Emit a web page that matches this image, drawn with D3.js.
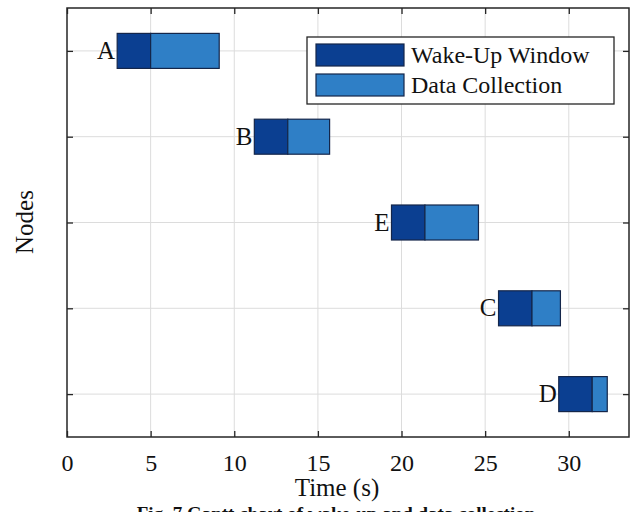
<!DOCTYPE html>
<html>
<head>
<meta charset="utf-8">
<script src="https://cdn.jsdelivr.net/npm/d3@7"></script>
<style>
body { margin: 0; background: #fff; }
text { font-family: "Liberation Serif", "Times New Roman", serif; fill: #111; }
</style>
</head>
<body>
<script>
// nodes in display order (top to bottom)
var nodes = ["A", "B", "E", "C", "D"];
var wakeStart = [3.0, 11.2, 19.4, 25.8, 29.4];
var wakeDur = [2.0, 2.0, 2.0, 2.0, 2.0];
var dataDur = [4.1, 2.5, 3.2, 1.7, 0.9];
var xTicks = [0, 5, 10, 15, 20, 25, 30];
var seriesNames = ["Wake-Up Window", "Data Collection"];
var seriesColors = ["#0b3f91", "#2f7fc6"];

var width = 630, height = 512;
var mLeft = 67, mRight = 629, mTop = 8, mBottom = 437;

var svg = d3.select("body").append("svg")
    .attr("width", width)
    .attr("height", height);

var x = d3.scaleLinear().domain([0, 33.6]).range([mLeft, mRight]);
var y = d3.scalePoint().domain(nodes).range([mTop, mBottom]).padding(0.5);
var barH = 35;

// grid
svg.append("g").selectAll("line.vg")
    .data(xTicks.slice(1))
    .enter().append("line")
    .attr("x1", d => x(d)).attr("x2", d => x(d))
    .attr("y1", mTop).attr("y2", mBottom)
    .attr("stroke", "#dcdcdc").attr("stroke-width", 1);
svg.append("g").selectAll("line.hg")
    .data(nodes)
    .enter().append("line")
    .attr("x1", mLeft).attr("x2", mRight)
    .attr("y1", d => y(d)).attr("y2", d => y(d))
    .attr("stroke", "#dcdcdc").attr("stroke-width", 1);

// bars
var rows = nodes.map(function(n, i) {
  return {node: n, s: wakeStart[i], w: wakeDur[i], c: dataDur[i]};
});

var g = svg.append("g");
g.selectAll(".wake")
    .data(rows)
    .enter().append("rect")
    .attr("x", d => x(d.s))
    .attr("y", d => y(d.node) - barH / 2)
    .attr("width", d => x(d.s + d.w) - x(d.s))
    .attr("height", barH)
    .attr("fill", seriesColors[0])
    .attr("stroke", "#14264a").attr("stroke-width", 1.2);
g.selectAll(".data")
    .data(rows)
    .enter().append("rect")
    .attr("x", d => x(d.s + d.w))
    .attr("y", d => y(d.node) - barH / 2)
    .attr("width", d => x(d.s + d.w + d.c) - x(d.s + d.w))
    .attr("height", barH)
    .attr("fill", seriesColors[1])
    .attr("stroke", "#14264a").attr("stroke-width", 1.2);
g.selectAll(".lab")
    .data(rows)
    .enter().append("text")
    .attr("x", d => x(d.s) - 2)
    .attr("y", d => y(d.node) + 8)
    .attr("text-anchor", "end")
    .attr("font-size", 25)
    .text(d => d.node);

// axes (box with inward ticks)
var xAxisB = d3.axisBottom(x).tickValues(xTicks).tickSize(-6).tickPadding(17).tickFormat(d3.format("d"));
var xAxisT = d3.axisTop(x).tickValues(xTicks).tickSize(-6).tickFormat("");
var yAxisL = d3.axisLeft(y).tickSize(-6).tickFormat("");
var yAxisR = d3.axisRight(y).tickSize(-6).tickFormat("");

function style(sel) {
  sel.select(".domain").remove();
  sel.selectAll("line").attr("stroke", "#262626").attr("stroke-width", 1.3);
  sel.selectAll("text").attr("font-size", 24).attr("font-family", "Liberation Serif").attr("fill", "#111");
}
svg.append("g").attr("transform", "translate(0," + mBottom + ")").call(xAxisB).call(style);
svg.append("g").attr("transform", "translate(0," + mTop + ")").call(xAxisT).call(style);
svg.append("g").attr("transform", "translate(" + mLeft + ",0)").call(yAxisL).call(style);
svg.append("g").attr("transform", "translate(" + mRight + ",0)").call(yAxisR).call(style);

svg.append("rect")
    .attr("x", mLeft).attr("y", mTop)
    .attr("width", mRight - mLeft).attr("height", mBottom - mTop)
    .attr("fill", "none").attr("stroke", "#262626").attr("stroke-width", 1.5);

// axis labels
svg.append("text")
    .attr("x", 337).attr("y", 496)
    .attr("text-anchor", "middle").attr("font-size", 25)
    .text("Time (s)");
svg.append("text")
    .attr("transform", "translate(33,222) rotate(-90)")
    .attr("text-anchor", "middle").attr("font-size", 25)
    .text("Nodes");

// caption (cut off at the bottom, as in the source figure)
svg.append("text")
    .attr("x", 336).attr("y", 520)
    .attr("text-anchor", "middle").attr("font-size", 19).attr("font-weight", "bold")
    .text("Fig. 7 Gantt chart of wake-up and data collection");

// legend
var lg = svg.append("g").attr("transform", "translate(307,37)");
lg.append("rect")
    .attr("width", 307).attr("height", 67)
    .attr("fill", "#fff").attr("stroke", "#262626").attr("stroke-width", 1.3);
var items = lg.selectAll(".item")
    .data(seriesNames)
    .enter().append("g")
    .attr("transform", (d, i) => "translate(9," + (7 + i * 30) + ")");
items.append("rect")
    .attr("width", 88).attr("height", 22)
    .attr("fill", (d, i) => seriesColors[i])
    .attr("stroke", "#14264a").attr("stroke-width", 1.2);
items.append("text")
    .attr("x", 95).attr("y", 19)
    .attr("font-size", 24)
    .text(d => d);
</script>
</body>
</html>
